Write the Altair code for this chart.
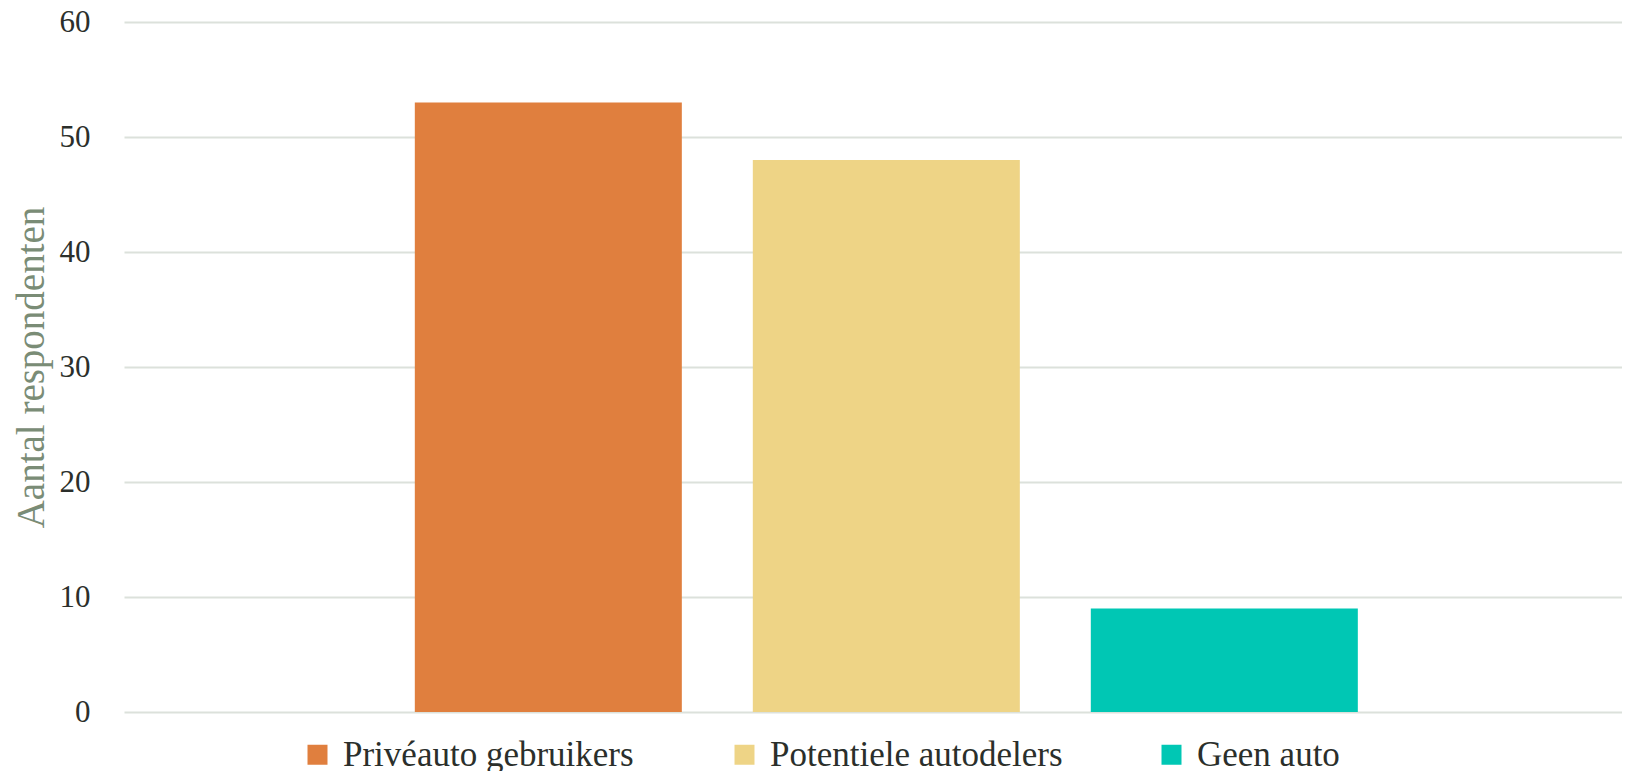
import altair as alt
import pandas as pd

categories = ["Privéauto gebruikers", "Potentiele autodelers", "Geen auto"]
values = [53, 48, 9]
colors = ["#e07f3e", "#eed486", "#00c7b4"]
y_ticks = [0, 10, 20, 30, 40, 50, 60]

df = pd.DataFrame({"groep": categories, "aantal": values})

FONT = "Liberation Serif"

chart = alt.Chart(df).mark_bar().encode(
    x=alt.X("groep:N", sort=categories,
            scale=alt.Scale(paddingInner=0.21, paddingOuter=0.821, align=0.524),
            axis=None),
    y=alt.Y("aantal:Q", scale=alt.Scale(domain=[0, 60], nice=False),
            axis=alt.Axis(values=y_ticks, title="Aantal respondenten",
                          grid=True, gridColor="#dce1db", gridWidth=2,
                          domain=False, ticks=False,
                          labelFont=FONT, labelFontSize=31, labelColor="#2b2f2b",
                          labelPadding=34,
                          titleFont=FONT, titleFontSize=39, titleColor="#7a8c76",
                          titleFontWeight="normal",
                          titleX=-93, titleY=345, titleAngle=270,
                          titleBaseline="middle", titleAlign="center")),
    color=alt.Color("groep:N", sort=categories,
                    scale=alt.Scale(domain=categories, range=colors),
                    legend=alt.Legend(title=None, orient="none",
                                      legendX=176, legendY=715,
                                      direction="horizontal", columns=3,
                                      gridAlign="all", columnPadding=91,
                                      symbolType="square", symbolSize=400,
                                      symbolStrokeWidth=0,
                                      labelFont=FONT, labelFontSize=35,
                                      labelColor="#2b2f2b", labelOffset=8,
                                      labelLimit=0)),
).properties(
    width=1498, height=690,
    autosize=alt.AutoSizeParams(type="none"),
    padding={"left": 116, "top": 14, "right": 0, "bottom": 59},
).configure_view(stroke=None)

chart.save("out.html", embed_options={"renderer": "svg", "actions": False})
